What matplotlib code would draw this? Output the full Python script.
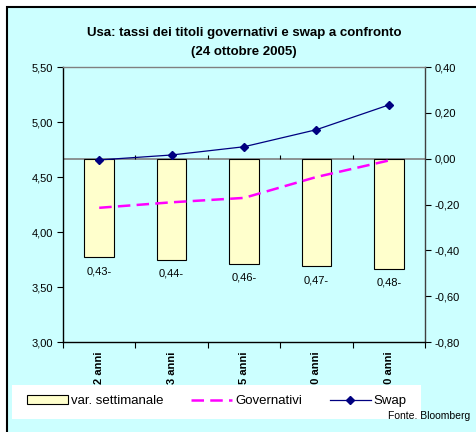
import numpy as np
import matplotlib
matplotlib.use('Agg')
import matplotlib.pyplot as plt
from matplotlib.patches import Rectangle
from matplotlib.lines import Line2D
from matplotlib.ticker import FuncFormatter, MultipleLocator

plt.rcParams['font.family'] = ['Liberation Sans', 'DejaVu Sans']

# dati
categorie = ['2 anni', '3 anni', '5 anni', '10 anni', '30 anni']
var_settimanale = [-0.43, -0.44, -0.46, -0.47, -0.48]   # asse destro
governativi = [4.22, 4.27, 4.31, 4.50, 4.65]            # asse sinistro
swap = [4.655, 4.70, 4.775, 4.93, 5.155]                 # asse sinistro

W, H = 477, 432
fig = plt.figure(figsize=(W / 100, H / 100), dpi=100)
fig.patch.set_facecolor('white')

# sfondo azzurro con bordo nero (solo sinistra/alto visibili)
sfondo = Rectangle((7 / W, -0.1), 1.2, 1 - 7 / H + 0.1, transform=fig.transFigure,
                   facecolor='#CCFFFF', edgecolor='black', lw=1.5, zorder=-10)
fig.patches.append(sfondo)

ax = fig.add_axes([63 / W, 1 - 342 / H, 362 / W, 275 / H])
ax2 = ax.twinx()
ax.set_zorder(2)
ax2.set_zorder(1)
ax.patch.set_visible(False)
ax2.patch.set_visible(False)

x = np.arange(len(categorie))


def fmt(v, pos=None):
    return '{:.2f}'.format(v).replace('.', ',')


# barre: variazione settimanale (asse destro)
ax2.bar(x, var_settimanale, width=0.41, color='#FFFFCC', edgecolor='black', lw=0.8, zorder=2)
ax2.axhline(0, color='#808080', lw=1.2, zorder=1)
ax2.vlines(np.arange(1, len(categorie)) - 0.5, 0, 0.014, color='black', lw=0.8, zorder=1)
for xi, v in zip(x, var_settimanale):
    ax2.annotate('{:.2f}-'.format(abs(v)).replace('.', ','), (xi, v), xytext=(0, -10),
                 textcoords='offset points', ha='center', va='center', fontsize=8)

ax2.set_ylim(-0.8, 0.4)
ax2.yaxis.set_major_locator(MultipleLocator(0.2))
ax2.yaxis.set_major_formatter(FuncFormatter(fmt))
ax2.tick_params(axis='y', direction='out', length=4, width=0.8, labelsize=8, pad=3)
for s in ax2.spines.values():
    s.set_visible(False)

# linee (asse sinistro)
ax.plot(x, governativi, color='#FF00FF', lw=1.8, dashes=(5, 2.5), zorder=3)
ax.plot(x, swap, color='#000080', lw=0.9, marker='D', ms=4, zorder=4)

ax.set_xlim(-0.5, len(categorie) - 0.5)
ax.set_ylim(3.0, 5.5)
ax.yaxis.set_major_locator(MultipleLocator(0.5))
ax.yaxis.set_major_formatter(FuncFormatter(fmt))
ax.tick_params(axis='y', direction='out', length=4, width=0.8, labelsize=8, pad=3)

ax.set_xticks(x)
ax.set_xticklabels(categorie, rotation=90, fontweight='bold', fontsize=8)
ax.tick_params(axis='x', which='major', length=0, pad=7)
ax.set_xticks(np.arange(len(categorie) + 1) - 0.5, minor=True)
ax.tick_params(axis='x', which='minor', direction='out', length=4, width=0.8)

ax.spines['left'].set_color('black')
ax.spines['bottom'].set_color('black')
ax.spines['top'].set_color('#808080')
ax.spines['right'].set_color('#404040')
for s in ax.spines.values():
    s.set_linewidth(1.0)

# titolo
fig.text(244 / W, 1 - 33 / H, 'Usa: tassi dei titoli governativi e swap a confronto',
         ha='center', va='center', fontweight='bold', fontsize=9.5)
fig.text(244 / W, 1 - 52 / H, '(24 ottobre 2005)',
         ha='center', va='center', fontweight='bold', fontsize=9.5)

# legenda
fig.patches.append(Rectangle((12 / W, 1 - 419 / H), 409 / W, 34 / H, transform=fig.transFigure,
                             facecolor='white', edgecolor='none', zorder=4))
handles = [Rectangle((0, 0), 1, 1, facecolor='#FFFFCC', edgecolor='black', lw=0.8),
           Line2D([], [], color='#FF00FF', lw=1.8, dashes=(5, 2.5)),
           Line2D([], [], color='#000080', lw=0.9, marker='D', ms=4)]
leg = fig.legend(handles, ['var. settimanale', 'Governativi', 'Swap'], loc='center left',
                 bbox_to_anchor=(27 / W, 1 - 401 / H), ncol=3, frameon=False, borderpad=0,
                 borderaxespad=0, fontsize=9.5, handlelength=3.1, handleheight=0.68,
                 handletextpad=0.23, columnspacing=2.1)
leg.set_zorder(5)

fig.text(470 / W, 1 - 415.7 / H, 'Fonte. Bloomberg', ha='right', va='center',
         fontsize=7.5, zorder=6)

fig.savefig('out.png', dpi=100)
